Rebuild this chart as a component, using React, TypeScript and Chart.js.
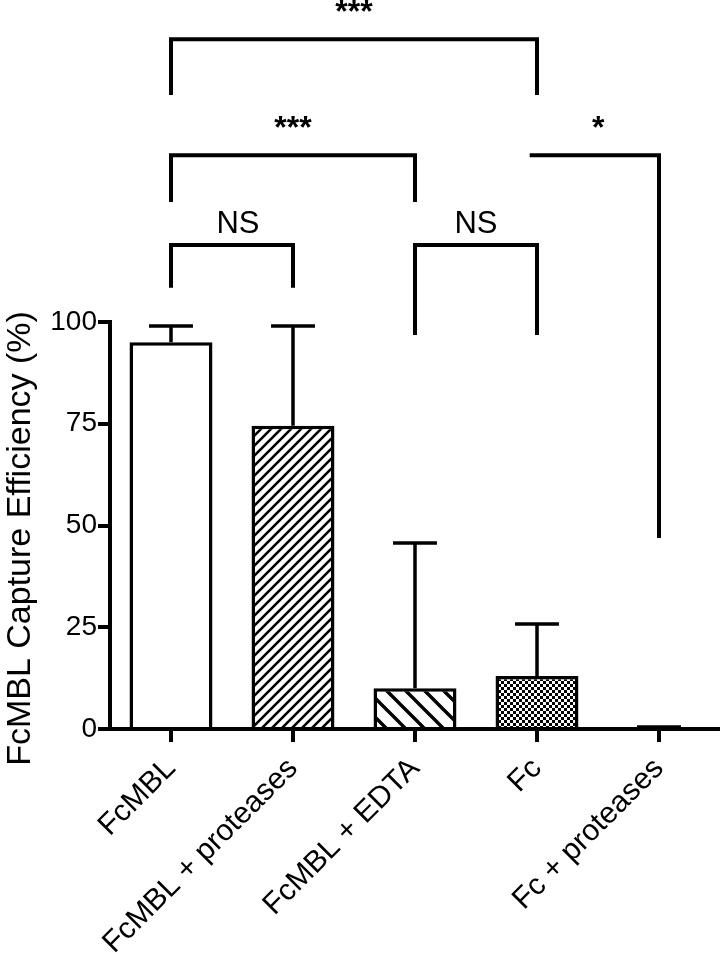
import React, { useEffect, useRef } from "react";
import { Chart, registerables } from "chart.js";

Chart.register(...registerables);

// ---- data ----
const categories = ["FcMBL", "FcMBL + proteases", "FcMBL + EDTA", "Fc", "Fc + proteases"];
const meanValues = [95, 74.5, 10, 13, 0];
const errorUpper = [99, 99, 45.7, 25.8, 0.5];
const yTickValues = [0, 25, 50, 75, 100];
const yTitle = "FcMBL Capture Efficiency (%)";

// significance brackets (category indices and values in axis units)
const bracketLabels = ["***", "***", "NS", "NS", "*"];
const bracketFrom = [0, 0, 0, 2, 3];
const bracketTo = [3, 2, 1, 3, 4];
const bracketTop = [169.5, 141, 118.9, 118.9, 141];
const bracketLeftLeg: (number | null)[] = [155.8, 129.5, 108.4, 96.8, null];
const bracketRightLeg: (number | null)[] = [155.8, 129.5, 108.4, 96.8, 46.9];

const FONT = "'Liberation Sans', Arial, Helvetica, sans-serif";

function makePattern(kind: string): CanvasPattern | string {
  const c = document.createElement("canvas");
  const g = c.getContext("2d")!;
  if (kind === "slash") {
    const s = 10;
    c.width = s; c.height = s;
    g.fillStyle = "#fff"; g.fillRect(0, 0, s, s);
    g.strokeStyle = "#000"; g.lineWidth = 2.6; g.lineCap = "square";
    g.beginPath();
    g.moveTo(-2, s + 2); g.lineTo(s + 2, -2);
    g.moveTo(-2, 2); g.lineTo(2, -2);
    g.moveTo(s - 2, s + 2); g.lineTo(s + 2, s - 2);
    g.stroke();
  } else if (kind === "backslash") {
    const s = 19;
    c.width = s; c.height = s;
    g.fillStyle = "#fff"; g.fillRect(0, 0, s, s);
    g.strokeStyle = "#000"; g.lineWidth = 3.4;
    g.beginPath();
    g.moveTo(-3, -3); g.lineTo(s + 3, s + 3);
    g.moveTo(-3, s - 3); g.lineTo(3, s + 3);
    g.moveTo(s - 3, -3); g.lineTo(s + 3, 3);
    g.stroke();
  } else if (kind === "checker") {
    const s = 6;
    c.width = s; c.height = s;
    g.fillStyle = "#fff"; g.fillRect(0, 0, s, s);
    g.fillStyle = "#000";
    g.fillRect(0, 0, 3, 3);
    g.fillRect(3, 3, 3, 3);
  } else {
    return "#fff";
  }
  return g.createPattern(c, "repeat")!;
}

const annotationPlugin = {
  id: "annotations",
  afterDatasetsDraw(chart: any) {
    const ctx = chart.ctx as CanvasRenderingContext2D;
    const xs = chart.scales.x;
    const ys = chart.scales.y;
    const step = xs.getPixelForValue(1) - xs.getPixelForValue(0);
    ctx.save();
    ctx.strokeStyle = "#000";
    ctx.fillStyle = "#000";
    ctx.lineCap = "butt";

    // error bars (upper only)
    ctx.lineWidth = 3.5;
    const capHalf = step * 0.18;
    meanValues.forEach((m, i) => {
      const x = xs.getPixelForValue(i);
      const y0 = ys.getPixelForValue(m);
      const y1 = ys.getPixelForValue(errorUpper[i]);
      ctx.beginPath();
      if (y0 - y1 > 2) {
        ctx.moveTo(x, y0);
        ctx.lineTo(x, y1);
      }
      ctx.moveTo(x - capHalf, y1);
      ctx.lineTo(x + capHalf, y1);
      ctx.stroke();
    });

    // brackets
    ctx.lineWidth = 4;
    ctx.lineJoin = "miter";
    ctx.textAlign = "center";
    ctx.textBaseline = "alphabetic";
    bracketLabels.forEach((lab, i) => {
      const left = bracketLeftLeg[i];
      const right = bracketRightLeg[i];
      const xl = xs.getPixelForValue(bracketFrom[i]) - (left === null ? step * 0.06 : 0);
      const xr = xs.getPixelForValue(bracketTo[i]);
      const yt = ys.getPixelForValue(bracketTop[i]);
      ctx.beginPath();
      if (left !== null) {
        ctx.moveTo(xl, ys.getPixelForValue(left));
        ctx.lineTo(xl, yt);
      } else {
        ctx.moveTo(xl, yt);
      }
      ctx.lineTo(xr, yt);
      if (right !== null) ctx.lineTo(xr, ys.getPixelForValue(right));
      ctx.stroke();
      const isStar = lab.includes("*");
      ctx.font = isStar ? `bold 32px ${FONT}` : `31px ${FONT}`;
      const lift = isStar ? 17 : 12;
      let cx = (xl + xr) / 2;
      if (left === null) cx += 4;
      else if (lab === "NS" && bracketFrom[i] === 0) cx += 6;
      ctx.fillText(lab, cx, yt - lift);
    });

    // y-axis title (rotated), centred slightly below the middle of the axis
    const area = chart.chartArea;
    ctx.font = `34px ${FONT}`;
    ctx.textAlign = "center";
    ctx.textBaseline = "middle";
    ctx.translate(21, (area.top + area.bottom) / 2 + 13);
    ctx.rotate(-Math.PI / 2);
    ctx.fillText(yTitle, 0, 0);
    ctx.restore();
  },
};

export default function App() {
  const ref = useRef<HTMLCanvasElement | null>(null);
  useEffect(() => {
    document.body.style.margin = "0";
    const canvas = ref.current!;
    const fills = [makePattern("none"), makePattern("slash"), makePattern("backslash"), makePattern("checker"), makePattern("none")];
    const chart = new Chart(canvas, {
      type: "bar",
      data: {
        labels: categories,
        datasets: [
          {
            data: meanValues,
            backgroundColor: fills as any,
            borderColor: "#000",
            borderWidth: meanValues.map((v) => (v > 0 ? 3.5 : 0)),
            borderSkipped: "start",
            barPercentage: 0.68,
            categoryPercentage: 1.0,
          },
        ],
      },
      options: {
        animation: false,
        responsive: false,
        maintainAspectRatio: false,
        layout: { padding: { top: 322, right: 0, left: 0, bottom: 0 } },
        plugins: { legend: { display: false }, tooltip: { enabled: false } },
        scales: {
          x: {
            offset: true,
            grid: { display: true, offset: false, drawOnChartArea: false, drawTicks: true, tickLength: 13, lineWidth: 4, color: "#000" },
            border: { display: true, width: 4, color: "#000" },
            ticks: {
              maxRotation: 45,
              minRotation: 45,
              autoSkip: false,
              color: "#000",
              padding: 9,
              font: { family: FONT, size: 30 },
            },
            afterFit: (s: any) => {
              s.height = 225;
            },
          },
          y: {
            min: 0,
            max: 100,
            afterBuildTicks: (s: any) => {
              s.ticks = yTickValues.map((v) => ({ value: v }));
            },
            grid: { display: true, drawOnChartArea: false, drawTicks: true, tickLength: 12, lineWidth: 4, color: "#000" },
            border: { display: true, width: 4, color: "#000" },
            ticks: { color: "#000", padding: 1, font: { family: FONT, size: 28 } },
            title: { display: false },
            afterFit: (s: any) => {
              s.width = 110;
            },
          },
        },
      },
      plugins: [annotationPlugin],
    });
    return () => chart.destroy();
  }, []);
  return (
    <div style={{ width: 720, height: 954 }}>
      <canvas ref={ref} width={720} height={954} style={{ display: "block" }} />
    </div>
  );
}
